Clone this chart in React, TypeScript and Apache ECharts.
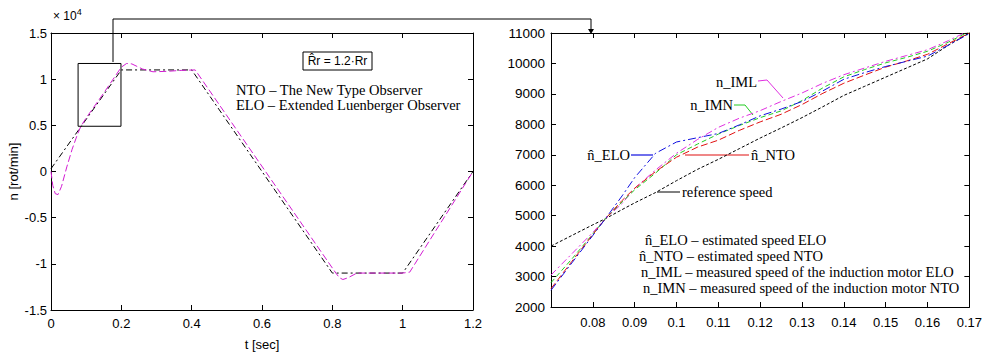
import React, { useEffect, useRef } from "react";
import * as echarts from "echarts";

// ---- Left plot (full run) ----
const leftRefT = [0, 0.2, 0.4, 0.8, 1.0, 1.2];
const leftRefV = [300, 11000, 11000, -11000, -11000, 0];
const leftEstT = [0, 0.005, 0.012, 0.02, 0.03, 0.045, 0.06, 0.075, 0.085, 0.1, 0.15, 0.2, 0.215, 0.23, 0.26, 0.29, 0.33, 0.37, 0.41, 0.81, 0.82, 0.83, 0.845, 0.87, 1.0, 1.02, 1.2];
const leftEstV = [0, -1500, -2400, -2500, -1600, 500, 2400, 4000, 4900, 5800, 8500, 11300, 11700, 11650, 11100, 10800, 10850, 10950, 11000, -11000, -11500, -11700, -11500, -11000, -11000, -10900, 0];
const zoomBoxT = [0.077, 0.199];
const zoomBoxV = [4900, 11700];

// ---- Right plot (zoom) ----
const rightT = [0.07, 0.075, 0.08, 0.083, 0.087, 0.09, 0.095, 0.1, 0.105, 0.11, 0.115, 0.12, 0.125, 0.13, 0.135, 0.14, 0.145, 0.15, 0.155, 0.16, 0.165, 0.17];
const refSpeed = [4000, 4350, 4700, 4900, 5200, 5420, 5760, 6150, 6520, 6850, 7200, 7550, 7880, 8220, 8580, 8950, 9250, 9550, 9850, 10150, 10600, 11000];
const nEloHat = [2550, 3450, 4350, 4900, 5650, 6250, 7050, 7420, 7560, 7700, 7980, 8280, 8500, 8750, 9100, 9480, 9700, 9900, 10070, 10240, 10600, 10980];
const nNtoHat = [2600, 3500, 4380, 4900, 5500, 5900, 6450, 6920, 7250, 7480, 7800, 8080, 8330, 8650, 9020, 9350, 9620, 9880, 10080, 10300, 10650, 11000];
const nImn = [2800, 3580, 4400, 4900, 5450, 5850, 6400, 7000, 7350, 7680, 7960, 8220, 8440, 8780, 9200, 9560, 9800, 10020, 10200, 10400, 10700, 11050];
const nIml = [3050, 3750, 4450, 4900, 5400, 5900, 6500, 7050, 7500, 7900, 8200, 8450, 8750, 9030, 9350, 9630, 9850, 10070, 10260, 10450, 10750, 11080];

const SANS = "'Liberation Sans', Arial, sans-serif";
const SERIF = "'Liberation Serif', 'Times New Roman', serif";
const NOTE = 14.5;

const zip = (t: number[], v: number[]) => t.map((x, i) => [x, v[i]]);

function boxAxis(gridIndex: number, min: number, max: number, interval: number, position: string, labels: boolean, extra: any = {}) {
  return {
    gridIndex,
    type: "value",
    min,
    max,
    interval,
    position,
    axisLine: { show: true, onZero: false, lineStyle: { color: "#000", width: 1 } },
    axisTick: { show: true, inside: true, length: 5, lineStyle: { color: "#000", width: 1 } },
    axisLabel: { show: labels, color: "#000", fontSize: 13, fontFamily: SANS },
    splitLine: { show: false },
    ...extra,
  };
}

function line(name: string, xi: number, yi: number, data: number[][], color: string, type: any, extra: any = {}) {
  return {
    name,
    type: "line",
    xAxisIndex: xi,
    yAxisIndex: yi,
    data,
    showSymbol: false,
    symbol: "none",
    smooth: false,
    lineStyle: { color, width: 1, type },
    z: 3,
    ...extra,
  };
}

export default function App() {
  const ref = useRef<HTMLDivElement>(null);
  useEffect(() => {
    if (!ref.current) return;
    const chart = echarts.init(ref.current, null, { renderer: "svg" });
    const fmtRight = (v: number) => String(Math.round(v * 100) / 100);
    const option: any = {
      animation: false,
      backgroundColor: "#fff",
      grid: [
        { left: 51, top: 33, width: 422, height: 283 },
        { left: 551, top: 33, width: 420, height: 274 },
      ],
      xAxis: [
        boxAxis(0, 0, 1.2, 0.2, "bottom", true, {
          name: "t [sec]",
          nameLocation: "middle",
          nameGap: 28,
          nameTextStyle: { color: "#000", fontSize: 13, fontFamily: SANS },
          axisLabel: { show: true, color: "#000", fontSize: 13, fontFamily: SANS, margin: 7, formatter: (v: number) => String(Math.round(v * 10) / 10) },
        }),
        boxAxis(0, 0, 1.2, 0.2, "top", false),
        boxAxis(1, 0.07, 0.17, 0.01, "bottom", true, {
          axisLabel: { show: true, color: "#000", fontSize: 13, fontFamily: SANS, margin: 9, showMinLabel: false, formatter: fmtRight },
        }),
        boxAxis(1, 0.07, 0.17, 0.01, "top", false),
      ],
      yAxis: [
        boxAxis(0, -15000, 15000, 5000, "left", true, {
          name: "n [rot/min]",
          nameLocation: "middle",
          nameGap: 31,
          nameRotate: 90,
          nameTextStyle: { color: "#000", fontSize: 13, fontFamily: SANS },
          axisLabel: { show: true, color: "#000", fontSize: 13, fontFamily: SANS, margin: 4, formatter: (v: number) => String(v / 10000) },
        }),
        boxAxis(0, -15000, 15000, 5000, "right", false),
        boxAxis(1, 2000, 11000, 1000, "left", true, {
          axisLabel: { show: true, color: "#000", fontSize: 13.5, fontFamily: SANS, margin: 6, formatter: (v: number) => String(v) },
        }),
        boxAxis(1, 2000, 11000, 1000, "right", false),
      ],
      series: [
        line("reference", 0, 0, zip(leftRefT, leftRefV), "#000", [6, 3, 2, 3]),
        line("estimate", 0, 0, zip(leftEstT, leftEstV), "#d21cd2", [7, 3], {
          markArea: {
            silent: true,
            itemStyle: { color: "rgba(0,0,0,0)", borderColor: "#000", borderWidth: 1 },
            data: [[{ xAxis: zoomBoxT[0], yAxis: zoomBoxV[0] }, { xAxis: zoomBoxT[1], yAxis: zoomBoxV[1] }]],
          },
        }),
        line("reference speed", 2, 2, zip(rightT, refSpeed), "#000", [3, 2]),
        line("n_IML", 2, 2, zip(rightT, nIml), "#e030e0", [7, 3, 2, 3]),
        line("n_IMN", 2, 2, zip(rightT, nImn), "#22cc22", [5, 3]),
        line("n^_NTO", 2, 2, zip(rightT, nNtoHat), "#e01010", [7, 3]),
        line("n^_ELO", 2, 2, zip(rightT, nEloHat), "#1010e0", [8, 3, 2, 3]),
      ],
      graphic: [
        {
          type: "text",
          left: 53,
          top: 7,
          style: {
            text: "{a|× 10}{b|4}",
            rich: {
              a: { fontSize: 12, fontFamily: SANS, fill: "#000" },
              b: { fontSize: 9, fontFamily: SANS, fill: "#000", padding: [0, 0, 9, 0] },
            },
          },
        },
        {
          type: "polyline",
          shape: { points: [[113, 62], [113, 19], [591, 19], [591, 30]] },
          style: { stroke: "#000", lineWidth: 1, fill: null },
        },
        {
          type: "polygon",
          shape: { points: [[588, 29], [594, 29], [591, 34]] },
          style: { fill: "#000" },
        },
        {
          type: "rect",
          shape: { x: 303, y: 52, width: 69, height: 18 },
          style: { stroke: "#000", lineWidth: 1, fill: "#fff" },
        },
        {
          type: "text",
          x: 337.5,
          y: 61,
          style: { text: "R\u0302r = 1.2·Rr", fontSize: 12, fontFamily: SANS, fill: "#000", align: "center", verticalAlign: "middle" },
        },
        {
          type: "text",
          x: 236,
          y: 90,
          style: { text: "NTO – The New Type Observer", fontSize: NOTE, fontFamily: SERIF, fill: "#000", verticalAlign: "middle" },
        },
        {
          type: "text",
          x: 236,
          y: 105,
          style: { text: "ELO – Extended Luenberger Observer", fontSize: NOTE, fontFamily: SERIF, fill: "#000", verticalAlign: "middle" },
        },
        { type: "text", x: 630, y: 155, style: { text: "n\u0302_ELO", fontSize: NOTE, fontFamily: SERIF, fill: "#000", align: "right", verticalAlign: "middle" } },
        { type: "line", shape: { x1: 631, y1: 155, x2: 653, y2: 155 }, style: { stroke: "#1010e0", lineWidth: 1.2 } },
        { type: "text", x: 751, y: 155, style: { text: "n\u0302_NTO", fontSize: NOTE, fontFamily: SERIF, fill: "#000", verticalAlign: "middle" } },
        { type: "line", shape: { x1: 685, y1: 155, x2: 749, y2: 155 }, style: { stroke: "#e01010", lineWidth: 1.2 } },
        { type: "text", x: 757, y: 82, style: { text: "n_IML", fontSize: NOTE, fontFamily: SERIF, fill: "#000", align: "right", verticalAlign: "middle" } },
        { type: "polyline", shape: { points: [[758, 81], [767, 80], [783, 98]] }, style: { stroke: "#e030e0", lineWidth: 1, fill: null } },
        { type: "text", x: 733, y: 105, style: { text: "n_IMN", fontSize: NOTE, fontFamily: SERIF, fill: "#000", align: "right", verticalAlign: "middle" } },
        { type: "polyline", shape: { points: [[734, 105], [745, 105], [753, 115]] }, style: { stroke: "#22cc22", lineWidth: 1, fill: null } },
        { type: "line", shape: { x1: 657, y1: 192, x2: 680, y2: 192 }, style: { stroke: "#000", lineWidth: 1 } },
        { type: "text", x: 682, y: 192, style: { text: "reference speed", fontSize: NOTE, fontFamily: SERIF, fill: "#000", verticalAlign: "middle" } },
        { type: "text", x: 645, y: 240, style: { text: "n\u0302_ELO – estimated speed ELO", fontSize: NOTE, fontFamily: SERIF, fill: "#000", verticalAlign: "middle" } },
        { type: "text", x: 639, y: 256, style: { text: "n\u0302_NTO – estimated speed NTO", fontSize: NOTE, fontFamily: SERIF, fill: "#000", verticalAlign: "middle" } },
        { type: "text", x: 641, y: 272, style: { text: "n_IML – measured speed of the induction motor ELO", fontSize: NOTE, fontFamily: SERIF, fill: "#000", verticalAlign: "middle" } },
        { type: "text", x: 643, y: 288, style: { text: "n_IMN – measured speed of the induction motor NTO", fontSize: NOTE, fontFamily: SERIF, fill: "#000", verticalAlign: "middle" } },
      ],
    };
    chart.setOption(option);
    return () => chart.dispose();
  }, []);
  return (
    <div
      ref={ref}
      style={{ position: "fixed", left: 0, top: 0, width: 985, height: 356, background: "#fff" }}
    />
  );
}
